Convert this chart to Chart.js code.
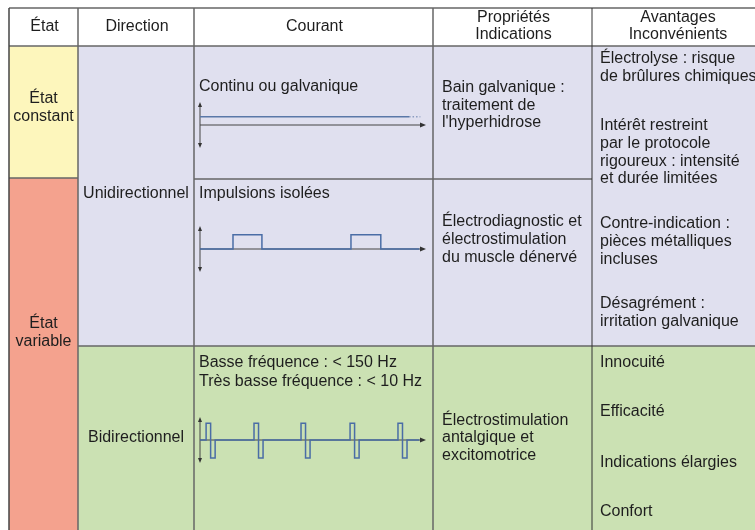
<!DOCTYPE html>
<html>
<head>
<meta charset="utf-8">
<script src="https://cdn.jsdelivr.net/npm/chart.js@4"></script>
<style>
  html, body { margin: 0; padding: 0; background: #fff; }
  #wrap { position: relative; width: 755px; height: 530px; overflow: hidden; }
  #wrap canvas { position: absolute; }
</style>
</head>
<body>
<div id="wrap">
  <canvas id="table" width="755" height="530" style="left:0;top:0"></canvas>
  <canvas id="wave1" width="245" height="62" style="left:190px;top:94px"></canvas>
  <canvas id="wave2" width="245" height="62" style="left:190px;top:218px"></canvas>
  <canvas id="wave3" width="245" height="62" style="left:190px;top:409px"></canvas>
</div>
<script>
const Chart = window.Chart;

// table texts
const headers = [['État'], ['Direction'], ['Courant'], ['Propriétés', 'Indications'], ['Avantages', 'Inconvénients']];
const etats = [['État', 'constant'], ['État', 'variable']];
const directions = ['Unidirectionnel', 'Bidirectionnel'];
const courants = [
  ['Continu ou galvanique'],
  ['Impulsions isolées'],
  ['Basse fréquence : < 150 Hz', 'Très basse fréquence : < 10 Hz']
];
const proprietes = [
  ['Bain galvanique :', 'traitement de', "l'hyperhidrose"],
  ['Électrodiagnostic et', 'électrostimulation', 'du muscle dénervé'],
  ['Électrostimulation', 'antalgique et', 'excitomotrice']
];
const avantagesUni = [
  ['Électrolyse : risque', 'de brûlures chimiques'],
  ['Intérêt restreint', 'par le protocole', 'rigoureux : intensité', 'et durée limitées'],
  ['Contre-indication :', 'pièces métalliques', 'incluses'],
  ['Désagrément :', 'irritation galvanique']
];
const avantagesBi = ['Innocuité', 'Efficacité', 'Indications élargies', 'Confort'];

// waveforms (time 0..10, amplitude -1..1)
const continuLevel = 0.36;
const continuSolidEnd = 9.25;
const continuDottedEnd = 9.75;
const impulsionStarts = [1.46, 6.68];
const impulsionEnds = [2.74, 8.0];
const impulsionLevel = 0.62;
const biphasicStarts = [0.27, 2.39, 4.47, 6.64, 8.76];
const biphasicPos = 0.73;
const biphasicNeg = -0.78;
const phaseWidth = 0.2;

// layout
const colX = [9, 78, 194, 433, 592, 762];
const headerY = [8, 46];
const FONT = '"Liberation Sans", Arial, sans-serif';
const TXT = '#1e1e1e';
const LINE = '#666';
const COL_YELLOW = '#fdf6bc';
const COL_SALMON = '#f4a28e';
const COL_LAVENDER = '#e0e0ef';
const COL_GREEN = '#cbe1b3';

const tablePlugin = {
  id: 'table',
  beforeDraw(chart) {
    const c = chart.ctx;
    const xs = chart.scales.x, ys = chart.scales.y;
    const X = v => xs.getPixelForValue(v);
    const Y = v => ys.getPixelForValue(v);
    const rect = (x0, y0, x1, y1, col) => {
      c.fillStyle = col;
      c.fillRect(X(x0), Y(y0), X(x1) - X(x0), Y(y1) - Y(y0));
    };
    c.save();
    rect(0, 0, 755, 530, '#fff');
    rect(colX[0], 46, colX[1], 178, COL_YELLOW);
    rect(colX[0], 178, colX[1], 530, COL_SALMON);
    rect(colX[1], 46, 762, 346, COL_LAVENDER);
    rect(colX[1], 346, 762, 530, COL_GREEN);

    const hline = (x0, x1, y, col, w) => {
      c.strokeStyle = col; c.lineWidth = w;
      c.beginPath(); c.moveTo(X(x0), Y(y)); c.lineTo(X(x1), Y(y)); c.stroke();
    };
    const vline = (x, y0, y1, col, w) => {
      c.strokeStyle = col; c.lineWidth = w;
      c.beginPath(); c.moveTo(X(x), Y(y0)); c.lineTo(X(x), Y(y1)); c.stroke();
    };
    hline(colX[0], 762, headerY[0], LINE, 1.5);
    hline(colX[0], 762, headerY[1], LINE, 1.5);
    hline(colX[0], colX[1], 178, LINE, 1.5);
    hline(colX[2], colX[4], 179, LINE, 1.5);
    hline(colX[1], 762, 346, LINE, 1.5);
    vline(colX[0], 8, 530, '#444', 1.5);
    vline(colX[1], 8, 530, LINE, 1.5);
    vline(colX[2], 8, 530, LINE, 1.5);
    vline(colX[3], 8, 530, LINE, 1.5);
    vline(colX[4], 8, 530, '#333', 1);

    c.fillStyle = TXT;
    c.textBaseline = 'middle';
    c.font = '16px ' + FONT;
    const lines = (arr, x, y0, step, align) => {
      c.textAlign = align;
      arr.forEach((t, i) => c.fillText(t, X(x), Y(y0 + i * step)));
    };
    // header
    headers.forEach((h, i) => {
      const cx = (colX[i] + colX[i + 1]) / 2 + 1;
      if (h.length === 1) lines(h, cx, 27, 17, 'center');
      else lines(h, cx, 18, 17, 'center');
    });
    const etatCx = (colX[0] + colX[1]) / 2;
    lines(etats[0], etatCx, 99, 18, 'center');
    lines(etats[1], etatCx, 323.5, 18, 'center');
    const dirCx = (colX[1] + colX[2]) / 2;
    lines([directions[0]], dirCx, 193.5, 18, 'center');
    lines([directions[1]], dirCx, 437.5, 18, 'center');
    lines(courants[0], 199, 86.5, 18, 'left');
    lines(courants[1], 199, 194, 18, 'left');
    lines(courants[2], 199, 363, 19, 'left');
    lines(proprietes[0], 442, 88, 17.5, 'left');
    lines(proprietes[1], 442, 222, 17.8, 'left');
    lines(proprietes[2], 442, 420.5, 17.5, 'left');
    const avY = [59, 125.5, 223.5, 304];
    avantagesUni.forEach((g, i) => lines(g, 600, avY[i], 17.8, 'left'));
    const avBiY = [363, 412, 462.5, 512];
    avantagesBi.forEach((t, i) => lines([t], 600, avBiY[i], 18, 'left'));
    c.restore();
  }
};

new Chart(document.getElementById('table'), {
  type: 'scatter',
  data: { datasets: [] },
  options: {
    responsive: false,
    animation: false,
    events: [],
    layout: { padding: 0 },
    scales: {
      x: { type: 'linear', min: 0, max: 755, display: false },
      y: { type: 'linear', min: 0, max: 530, reverse: true, display: false }
    },
    plugins: { legend: { display: false }, tooltip: { enabled: false } }
  },
  plugins: [tablePlugin]
});

// axes with arrow heads, drawn under the signal
const axesPlugin = {
  id: 'waveAxes',
  beforeDatasetsDraw(chart) {
    const c = chart.ctx;
    const xs = chart.scales.x, ys = chart.scales.y;
    const x0 = xs.getPixelForValue(0), x1 = xs.getPixelForValue(10);
    const y0 = ys.getPixelForValue(0), yt = ys.getPixelForValue(1), yb = ys.getPixelForValue(-1);
    c.save();
    c.strokeStyle = '#444'; c.fillStyle = '#333'; c.lineWidth = 1;
    c.beginPath(); c.moveTo(x0, y0); c.lineTo(x1 - 4, y0); c.stroke();
    c.beginPath(); c.moveTo(x1, y0); c.lineTo(x1 - 6, y0 - 2.5); c.lineTo(x1 - 6, y0 + 2.5); c.closePath(); c.fill();
    c.beginPath(); c.moveTo(x0, yt + 3); c.lineTo(x0, yb - 3); c.stroke();
    c.beginPath(); c.moveTo(x0, yt); c.lineTo(x0 - 2, yt + 5); c.lineTo(x0 + 2, yt + 5); c.closePath(); c.fill();
    c.beginPath(); c.moveTo(x0, yb); c.lineTo(x0 - 2, yb - 5); c.lineTo(x0 + 2, yb - 5); c.closePath(); c.fill();
    c.restore();
  }
};

function waveChart(id, datasets) {
  return new Chart(document.getElementById(id), {
    type: 'line',
    data: { datasets },
    options: {
      responsive: false,
      animation: false,
      events: [],
      layout: { padding: { left: 10, right: 9, top: 8, bottom: 8 } },
      elements: { point: { radius: 0 }, line: { tension: 0, borderWidth: 1.5, borderColor: '#4a6da6' } },
      scales: {
        x: { type: 'linear', min: 0, max: 10, display: false },
        y: { type: 'linear', min: -1, max: 1, display: false }
      },
      plugins: { legend: { display: false }, tooltip: { enabled: false } }
    },
    plugins: [axesPlugin]
  });
}

// continuous
waveChart('wave1', [
  { data: [{ x: 0, y: continuLevel }, { x: continuSolidEnd, y: continuLevel }], borderColor: '#5a78a8' },
  { data: [{ x: continuSolidEnd, y: continuLevel }, { x: continuDottedEnd, y: continuLevel }], borderColor: '#8a9cc0', borderDash: [1.5, 2] }
]);

// isolated pulses
const impulsionPts = [{ x: 0, y: 0 }];
impulsionStarts.forEach((s, i) => {
  const e = impulsionEnds[i];
  impulsionPts.push({ x: s, y: 0 }, { x: s, y: impulsionLevel }, { x: e, y: impulsionLevel }, { x: e, y: 0 });
});
impulsionPts.push({ x: 9.7, y: 0 });
waveChart('wave2', [{ data: impulsionPts }]);

// biphasic pulses
const biphasicPts = [{ x: 0, y: 0 }];
biphasicStarts.forEach(s => {
  biphasicPts.push(
    { x: s, y: 0 }, { x: s, y: biphasicPos },
    { x: s + phaseWidth, y: biphasicPos }, { x: s + phaseWidth, y: biphasicNeg },
    { x: s + 2 * phaseWidth, y: biphasicNeg }, { x: s + 2 * phaseWidth, y: 0 }
  );
});
biphasicPts.push({ x: 9.7, y: 0 });
waveChart('wave3', [{ data: biphasicPts }]);
</script>
</body>
</html>
